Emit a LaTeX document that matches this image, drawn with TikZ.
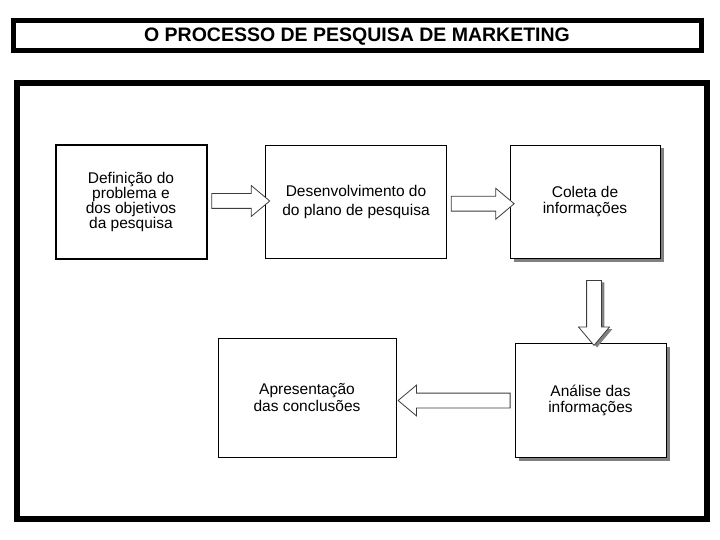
\documentclass[tikz,border=0pt]{standalone}
\usepackage{fontspec}
\setmainfont{Liberation Sans}
\usepackage{tikz}
\usetikzlibrary{positioning, calc, shapes.arrows, shadows}
\definecolor{setagray}{RGB}{60, 60, 60}
\definecolor{sombra}{RGB}{128, 128, 128}

\tikzset{
    etapa/.style={draw=black, line width=0.9pt, fill=white, align=center,
        font=\fontsize{15.5}{16.5}\selectfont, inner sep=0pt},
    etapasombra/.style={etapa, drop shadow={shadow xshift=3.5pt, shadow yshift=-3.5pt,
        fill=sombra, opacity=1}},
    seta/.style={single arrow, draw=setagray, line width=0.8pt, fill=white,
        minimum width=30pt, inner sep=7pt, single arrow head extend=8pt,
        single arrow tip angle=80, anchor=center}
}

\begin{document}
\begin{tikzpicture}[x=1pt, y=-1pt]
    \useasboundingbox (0,0) rectangle (720,540);

    % titulo
    \draw[line width=5pt] (13.5,20.5) rectangle (701.5,50.5);
    \node[font=\fontsize{19.5}{20}\selectfont\bfseries] (titulo) at (357,36.5)
        {O PROCESSO DE PESQUISA DE MARKETING};

    % moldura
    \draw[line width=6pt] (17,83) rectangle (707,519);

    % etapas
    \node[etapa, line width=2pt, minimum width=151pt, minimum height=114pt,
        font=\fontsize{15.5}{15}\selectfont] (definicao) at (131,202)
        {Definição do\\problema e\\dos objetivos\\da pesquisa};
    \node[etapa, minimum width=181pt, minimum height=113pt,
        font=\fontsize{15.5}{18.5}\selectfont] (plano) at (356,202)
        {Desenvolvimento do\\do plano de pesquisa};
    \node[etapasombra, minimum width=150pt, minimum height=113pt] (coleta) at (585,201.5)
        {Coleta de\\informações};
    \node[etapasombra, minimum width=151pt, minimum height=114pt] (analise) at (590.5,400.5)
        {Análise das\\informações};
    \node[etapa, minimum width=178pt, minimum height=119pt] (apresentacao) at (307,397.5)
        {Apresentação\\das conclusões};

    % setas
    \node[seta, minimum height=58pt] (s1) at ($(definicao.east)!0.5!(plano.west)+(0,-1)$) {};
    \node[seta, minimum height=63pt] (s2) at ($(plano.east)!0.5!(coleta.west)+(0,2)$) {};
    \node[seta, minimum height=65pt, shape border rotate=270, drop shadow={shadow xshift=3pt,
        shadow yshift=-2pt, fill=sombra, opacity=1}] (s3) at (594,308.5) {};
    \node[seta, minimum height=112pt, shape border rotate=180] (s4)
        at ($(analise.west)+(-56,0)$) {};
\end{tikzpicture}
\end{document}
